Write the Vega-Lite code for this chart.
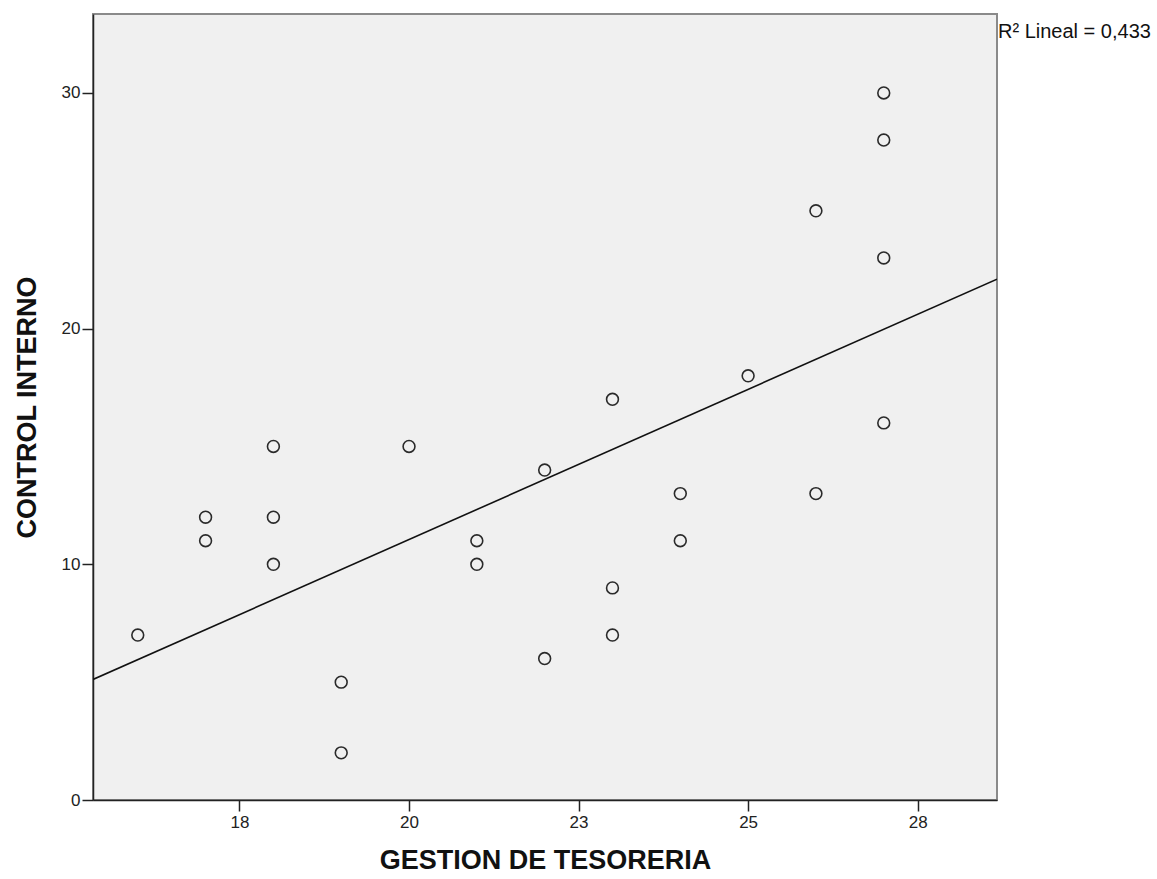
{
  "$schema": "https://vega.github.io/schema/vega-lite/v6.json",
  "width": 904,
  "height": 786,
  "autosize": "none",
  "padding": {"left": 93, "top": 14, "right": 160, "bottom": 79},
  "background": "white",
  "config": {
    "view": {"fill": "#f0f0f0", "stroke": "#8a8a8a", "strokeWidth": 2},
    "font": "Liberation Sans",
    "axis": {
      "grid": false,
      "domainColor": "#222",
      "domainWidth": 1.5,
      "tickColor": "#222",
      "tickWidth": 1.5,
      "tickSize": 11,
      "labelFont": "Liberation Sans",
      "labelFontSize": 17,
      "labelColor": "#222",
      "titleFont": "Liberation Sans",
      "titleFontSize": 27,
      "titleFontWeight": "bold",
      "titleColor": "#111"
    }
  },
  "data": {
    "values": [
      {"gestion": 16, "control": 7},
      {"gestion": 17, "control": 12},
      {"gestion": 17, "control": 11},
      {"gestion": 18, "control": 15},
      {"gestion": 18, "control": 12},
      {"gestion": 18, "control": 10},
      {"gestion": 19, "control": 5},
      {"gestion": 19, "control": 2},
      {"gestion": 20, "control": 15},
      {"gestion": 21, "control": 11},
      {"gestion": 21, "control": 10},
      {"gestion": 22, "control": 14},
      {"gestion": 22, "control": 6},
      {"gestion": 23, "control": 17},
      {"gestion": 23, "control": 9},
      {"gestion": 23, "control": 7},
      {"gestion": 24, "control": 13},
      {"gestion": 24, "control": 11},
      {"gestion": 25, "control": 18},
      {"gestion": 26, "control": 25},
      {"gestion": 26, "control": 13},
      {"gestion": 27, "control": 30},
      {"gestion": 27, "control": 28},
      {"gestion": 27, "control": 23},
      {"gestion": 27, "control": 16}
    ]
  },
  "layer": [
    {
      "transform": [
        {"regression": "control", "on": "gestion", "extent": [15.34, 28.67]}
      ],
      "mark": {"type": "line", "color": "#111", "strokeWidth": 1.6, "clip": true},
      "encoding": {
        "x": {"field": "gestion", "type": "quantitative"},
        "y": {"field": "control", "type": "quantitative"}
      }
    },
    {
      "mark": {"type": "point", "shape": "circle", "filled": false, "size": 140, "stroke": "#2a2a2a", "strokeWidth": 1.6, "opacity": 1},
      "encoding": {
        "x": {
          "field": "gestion",
          "type": "quantitative",
          "scale": {"domain": [15.34, 28.67], "nice": false, "zero": false},
          "axis": {
            "values": [17.5, 20, 22.5, 25, 27.5],
            "labelExpr": "round(datum.value)",
            "title": "GESTION DE TESORERIA",
            "titlePadding": 17,
            "labelPadding": 3
          }
        },
        "y": {
          "field": "control",
          "type": "quantitative",
          "scale": {"domain": [0, 33.35], "nice": false},
          "axis": {
            "values": [0, 10, 20, 30],
            "title": "CONTROL INTERNO",
            "titlePadding": 20,
            "labelPadding": 2
          }
        }
      }
    },
    {
      "data": {"values": [{"gx": 28.67, "gy": 32.33, "label": "R² Lineal = 0,433"}]},
      "mark": {"type": "text", "align": "left", "baseline": "alphabetic", "dx": 1, "fontSize": 20, "font": "Liberation Sans", "color": "#111", "clip": false},
      "encoding": {
        "x": {"field": "gx", "type": "quantitative"},
        "y": {"field": "gy", "type": "quantitative"},
        "text": {"field": "label"}
      }
    }
  ]
}
